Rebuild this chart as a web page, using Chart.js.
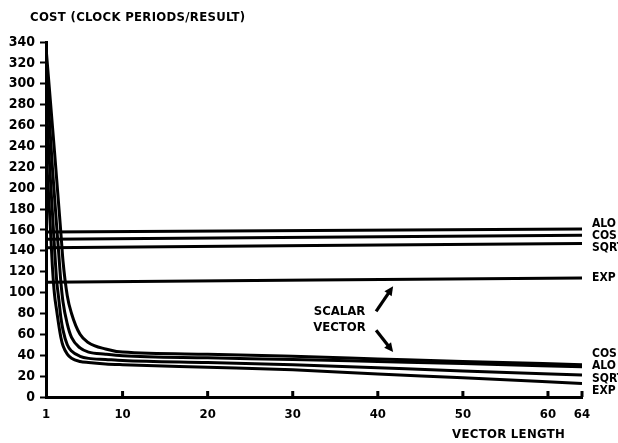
<!DOCTYPE html>
<html>
<head>
<meta charset="utf-8">
<script src="https://cdn.jsdelivr.net/npm/chart.js@4"></script>
<style>
  html, body { margin: 0; padding: 0; background: #fff; }
  #wrap { width: 618px; height: 443px; position: relative; }
</style>
</head>
<body>
<div id="wrap"><canvas id="chart"></canvas></div>
<script>
// vector length samples (shared by the vector curves)
const vectorX = [1, 1.25, 1.5, 1.75, 2, 2.25, 2.5, 2.75, 3, 3.5, 4, 5, 6, 8, 10, 20, 30, 40, 50, 64];
const cosVector  = [335, 310, 285, 260, 235, 209, 183, 157, 130, 97, 80, 60, 52, 46, 43, 41, 39, 36.5, 34, 31];
const aloVector  = [320, 286, 252, 220, 192, 164, 137, 110, 91, 70, 57, 47, 43, 41, 39.5, 37.5, 36, 34, 32, 29];
const sqrtVector = [285, 248, 211, 177, 143, 112, 94, 76, 64, 50, 44, 39, 37, 36, 35, 33, 31, 28, 25, 21];
const expVector  = [235, 202, 164, 125, 98, 83, 69, 57, 49, 41, 37, 34, 33, 31.7, 31, 28.5, 26, 22, 18.5, 13];

// scalar cost, nearly flat
const scalarX = [1, 64];
const aloScalar  = [158, 161];
const cosScalar  = [151, 155];
const sqrtScalar = [143, 147];
const expScalar  = [110, 114];

const xTicks = [1, 10, 20, 30, 40, 50, 60, 64];

const FONT = "'DejaVu Sans Condensed', 'Liberation Sans Narrow', 'DejaVu Sans', sans-serif";

function pts(xs, ys) {
    return xs.map((x, i) => ({ x: x, y: ys[i] }));
}

function series(label, xs, ys) {
    return {
        label: label,
        data: pts(xs, ys),
        borderColor: '#000',
        borderWidth: 3,
        pointRadius: 0,
        cubicInterpolationMode: 'monotone',
        fill: false
    };
}

const datasets = [
    series('ALO', scalarX, aloScalar),
    series('COS', scalarX, cosScalar),
    series('SQRT', scalarX, sqrtScalar),
    series('EXP', scalarX, expScalar),
    series('COS', vectorX, cosVector),
    series('ALO', vectorX, aloVector),
    series('SQRT', vectorX, sqrtVector),
    series('EXP', vectorX, expVector)
];

function arrow(ctx, x1, y1, x2, y2) {
    const a = Math.atan2(y2 - y1, x2 - x1);
    const h = 10;
    ctx.beginPath();
    ctx.moveTo(x1, y1);
    ctx.lineTo(x2 - Math.cos(a) * h * 0.7, y2 - Math.sin(a) * h * 0.7);
    ctx.lineWidth = 3.2;
    ctx.stroke();
    ctx.beginPath();
    ctx.moveTo(x2, y2);
    ctx.lineTo(x2 - h * Math.cos(a - 0.45), y2 - h * Math.sin(a - 0.45));
    ctx.lineTo(x2 - h * Math.cos(a + 0.45), y2 - h * Math.sin(a + 0.45));
    ctx.closePath();
    ctx.fill();
}

const textPlugin = {
    id: 'textPlugin',
    afterDraw(chart) {
        const ctx = chart.ctx;
        const area = chart.chartArea;
        const xs = chart.scales.x, ys = chart.scales.y;
        ctx.save();
        ctx.fillStyle = '#000';
        ctx.strokeStyle = '#000';

        // small tick bumps above the x axis
        ctx.lineWidth = 3;
        xTicks.slice(1).forEach(v => {
            const px = xs.getPixelForValue(v);
            ctx.beginPath();
            ctx.moveTo(px, area.bottom);
            ctx.lineTo(px, area.bottom - 6);
            ctx.stroke();
        });

        ctx.textBaseline = 'middle';
        ctx.textAlign = 'left';
        ctx.font = 'bold 13px ' + FONT;
        ctx.letterSpacing = '0.3px';
        ctx.fillText('COST (CLOCK PERIODS/RESULT)', 30, 18);

        ctx.textAlign = 'right';
        ctx.fillText('VECTOR LENGTH', area.right - 17, area.bottom + 38);
        ctx.letterSpacing = '0px';

        // end labels, stacked where lines are close
        ctx.font = 'bold 12px ' + FONT;
        const ends = chart.data.datasets.map(ds => ({
            label: ds.label,
            y: ys.getPixelForValue(ds.data[ds.data.length - 1].y)
        })).sort((a, b) => a.y - b.y);
        const groups = [];
        ends.forEach(e => {
            const g = groups[groups.length - 1];
            if (g && e.y - g[g.length - 1].y < 16) g.push(e); else groups.push([e]);
        });
        ctx.textAlign = 'left';
        groups.forEach(g => {
            const mean = g.reduce((s, e) => s + e.y, 0) / g.length;
            g.forEach((e, i) => {
                ctx.fillText(e.label, area.right + 10, mean + (i - (g.length - 1) / 2) * 12.3);
            });
        });

        // SCALAR / VECTOR callout
        ctx.font = 'bold 13px ' + FONT;
        ctx.textAlign = 'center';
        const tx = xs.getPixelForValue(35.5);
        ctx.fillText('SCALAR', tx, ys.getPixelForValue(82));
        ctx.fillText('VECTOR', tx, ys.getPixelForValue(66));
        arrow(ctx, xs.getPixelForValue(39.8), ys.getPixelForValue(82),
              xs.getPixelForValue(41.8), ys.getPixelForValue(106));
        arrow(ctx, xs.getPixelForValue(39.8), ys.getPixelForValue(64),
              xs.getPixelForValue(41.8), ys.getPixelForValue(43));
        ctx.restore();
    }
};

new Chart(document.getElementById('chart'), {
    type: 'line',
    data: { datasets: datasets },
    options: {
        responsive: true,
        maintainAspectRatio: false,
        animation: false,
        layout: { padding: { left: 4, top: 42, right: 36, bottom: 0 } },
        plugins: {
            legend: { display: false },
            tooltip: { enabled: false }
        },
        scales: {
            x: {
                type: 'linear',
                min: 1,
                max: 64,
                afterBuildTicks: s => { s.ticks = xTicks.map(v => ({ value: v })); },
                afterFit: s => { s.height = 46; },
                grid: { drawOnChartArea: false, drawTicks: false },
                border: { color: '#000', width: 3 },
                ticks: {
                    color: '#000',
                    padding: 10,
                    maxRotation: 0,
                    autoSkip: false,
                    font: { family: FONT, size: 13, weight: 'bold' }
                }
            },
            y: {
                min: 0,
                max: 340,
                afterFit: s => { s.width = 42; },
                grid: { drawOnChartArea: false, tickLength: 6, tickWidth: 2, tickColor: '#000' },
                border: { color: '#000', width: 3 },
                ticks: {
                    stepSize: 20,
                    color: '#000',
                    padding: 5,
                    font: { family: FONT, size: 14, weight: 'bold' }
                }
            }
        }
    },
    plugins: [textPlugin]
});
</script>
</body>
</html>
